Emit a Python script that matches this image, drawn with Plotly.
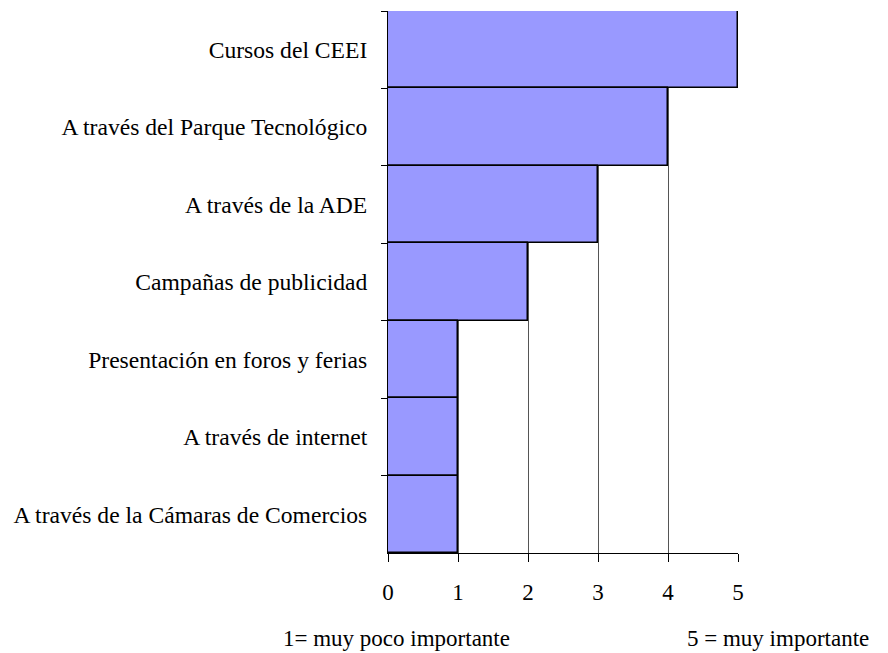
import plotly.graph_objects as go

# Channels, listed from top to bottom, with their importance score (1-5)
channels = [
    "Cursos del CEEI",
    "A través del Parque Tecnológico",
    "A través de la ADE",
    "Campañas de publicidad",
    "Presentación en foros y ferias",
    "A través de internet",
    "A través de la Cámaras de Comercios",
]
scores = [5, 4, 3, 2, 1, 1, 1]
x_ticks = [0, 1, 2, 3, 4, 5]

FONT = "Liberation Serif, Times New Roman, serif"
SIZE = 23

fig = go.Figure(
    go.Bar(
        x=scores,
        y=channels,
        orientation="h",
        marker=dict(color="#9999FF", line=dict(color="#000000", width=1.5)),
        hoverinfo="x+y",
    )
)

fig.update_layout(
    width=888,
    height=653,
    margin=dict(l=388, r=150, t=11, b=100),
    paper_bgcolor="white",
    plot_bgcolor="white",
    bargap=0,
    showlegend=False,
    font=dict(family=FONT, size=SIZE, color="#000000"),
)

fig.update_xaxes(
    range=[0, 5],
    tickvals=x_ticks,
    showgrid=True,
    gridcolor="#555555",
    gridwidth=1,
    zeroline=False,
    showline=True,
    linecolor="#000000",
    linewidth=1,
    ticks="outside",
    ticklen=8,
    tickcolor="#000000",
    ticklabelstandoff=10,
    tickfont=dict(family=FONT, size=SIZE),
)

fig.update_yaxes(
    autorange="reversed",
    showgrid=False,
    showline=True,
    linecolor="#000000",
    linewidth=1,
    ticks="outside",
    tickson="boundaries",
    ticklen=6,
    tickcolor="#000000",
    ticklabelstandoff=15,
    tickfont=dict(family=FONT, size=23.6),
)

fig.add_annotation(
    text="1= muy poco importante", xref="paper", yref="paper",
    x=(396 - 388) / 350, y=-85 / 542, xanchor="center", yanchor="middle",
    showarrow=False, font=dict(family=FONT, size=SIZE),
)
fig.add_annotation(
    text="5 = muy importante", xref="paper", yref="paper",
    x=(778 - 388) / 350, y=-85 / 542, xanchor="center", yanchor="middle",
    showarrow=False, font=dict(family=FONT, size=SIZE),
)

fig.write_html("out.html")
